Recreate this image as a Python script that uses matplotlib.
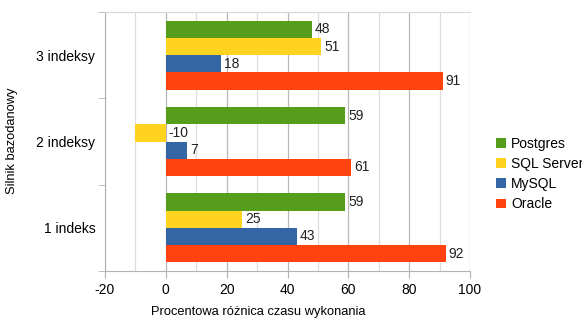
import matplotlib
matplotlib.use("Agg")
import matplotlib.pyplot as plt
import numpy as np

categories = ["1 indeks", "2 indeksy", "3 indeksy"]
series = ["Oracle", "MySQL", "SQL Server", "Postgres"]
oracle = [92, 61, 91]
mysql = [43, 7, 18]
sql_server = [25, -10, 51]
postgres = [59, 59, 48]
colors = ["#ff420e", "#3465a4", "#ffd320", "#579d1c"]

plt.rcParams["font.family"] = ["Liberation Sans", "DejaVu Sans"]
plt.rcParams["font.size"] = 10
plt.rcParams["axes.unicode_minus"] = False

fig = plt.figure(figsize=(5.82, 3.2), dpi=100)
ax = fig.add_axes([105 / 582, 1 - 271 / 320, 365 / 582, 259 / 320])

y = np.arange(len(categories))
h = 0.2
offsets = [-0.3, -0.1, 0.1, 0.3]
handles = []
for vals, name, col, off in zip([oracle, mysql, sql_server, postgres],
                                series, colors, offsets):
    b = ax.barh(y + off, vals, height=h, color=col, label=name, zorder=3)
    handles.append(b)
    for yi, v in zip(y, vals):
        ax.text(max(v, 0) + 1.0, yi + off, str(v), va="center", ha="left",
                fontsize=10, color="#222222", zorder=4)

ax.set_xlim(-20, 100)
ax.set_ylim(-0.5, 2.5)
ax.set_xticks(np.arange(-20, 101, 20))
ax.set_xticks(np.arange(-20, 101, 10), minor=True)
ax.grid(axis="x", which="major", color="#b8b8b8", linewidth=0.9, zorder=0)
ax.grid(axis="x", which="minor", color="#dddddd", linewidth=0.9, zorder=0)
ax.set_yticks(y)
ax.set_yticklabels(categories)
ax.set_yticks([-0.5, 0.5, 1.5, 2.5], minor=True)
ax.tick_params(axis="y", which="major", length=0, pad=7, labelsize=10)
ax.tick_params(axis="y", which="minor", length=5, color="#b3b3b3")
ax.tick_params(axis="x", which="major", length=5, color="#b3b3b3", pad=4,
               labelsize=10)
ax.tick_params(axis="x", which="minor", length=0)

for s in ["left", "bottom"]:
    ax.spines[s].set_color("#b3b3b3")
ax.spines["top"].set_color("#d8d8d8")
ax.spines["right"].set_visible(False)

fig.text(258 / 582, 1 - 312 / 320, "Procentowa różnica czasu wykonania",
         ha="center", va="center", fontsize=9.3)
fig.text(12 / 582, 1 - 141 / 320, "Silnik bazodanowy", rotation=90,
         ha="center", va="center", fontsize=9.3)

fig.legend(handles[::-1], series[::-1], loc="center left",
           bbox_to_anchor=(496 / 582, 1 - 174 / 320), frameon=False,
           borderpad=0, borderaxespad=0,
           handlelength=0.7, handleheight=0.7, handletextpad=0.4,
           labelspacing=0.45, fontsize=10)

fig.savefig("out.png", dpi=100)
